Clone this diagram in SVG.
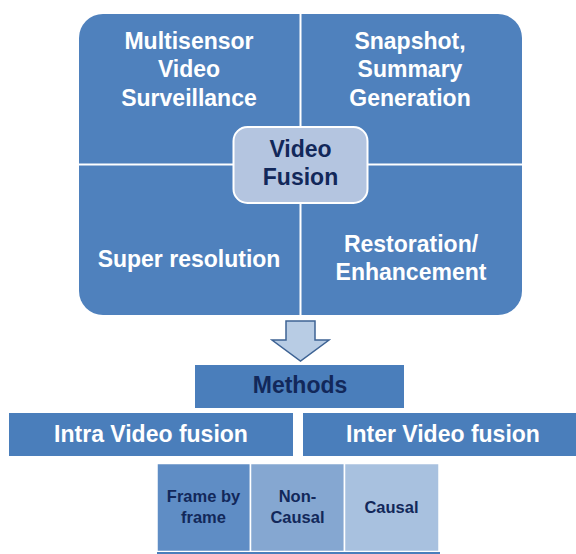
<svg xmlns="http://www.w3.org/2000/svg" width="576" height="554" viewBox="0 0 576 554">
  <style>
    .quad { fill: #4F81BD; }
    .divider { stroke: #FFFFFF; stroke-width: 2; }
    .lt { font-family: "Liberation Sans", Arial, sans-serif; font-weight: bold; fill: #FFFFFF; text-anchor: middle; }
    .dk { font-family: "Liberation Sans", Arial, sans-serif; font-weight: bold; fill: #12285A; text-anchor: middle; }
    .big { font-size: 23px; }
    .small { font-size: 16.5px; }
    .bar { fill: #4A7EBB; }
    .cell { stroke: #FFFFFF; stroke-width: 1.5; }
  </style>

  <!-- fusion application matrix -->
  <g id="matrix">
    <rect class="quad" x="79" y="14" width="443" height="301" rx="24" ry="24"/>
    <line class="divider" x1="300.5" y1="14" x2="300.5" y2="315"/>
    <line class="divider" x1="79" y1="164.5" x2="522" y2="164.5"/>
  </g>

  <g id="multisensor">
    <text class="lt big" x="189" y="49">Multisensor</text>
    <text class="lt big" x="189" y="77">Video</text>
    <text class="lt big" x="189" y="106">Surveillance</text>
  </g>

  <g id="snapshot">
    <text class="lt big" x="410" y="49">Snapshot,</text>
    <text class="lt big" x="410" y="77">Summary</text>
    <text class="lt big" x="410" y="106">Generation</text>
  </g>

  <g id="super-resolution">
    <text class="lt big" x="189" y="267">Super resolution</text>
  </g>

  <g id="restoration">
    <text class="lt big" x="411" y="252">Restoration/</text>
    <text class="lt big" x="411" y="280">Enhancement</text>
  </g>

  <g id="video-fusion">
    <rect x="233.5" y="127" width="134" height="76" rx="14" ry="14" fill="#B4C5E0" stroke="#FFFFFF" stroke-width="2"/>
    <text class="dk big" x="300.5" y="157">Video</text>
    <text class="dk big" x="300.5" y="185">Fusion</text>
  </g>

  <!-- block arrow down to methods -->
  <g id="connectors">
    <path d="M286,321 L315,321 L315,340 L329,340 L300.5,361 L272,340 L286,340 Z" fill="#B8CCE4" stroke="#3E6394" stroke-width="1.5" stroke-linejoin="miter"/>
  </g>

  <g id="methods">
    <rect class="bar" x="195" y="365" width="209" height="43"/>
    <text class="dk big" x="300" y="393">Methods</text>
  </g>

  <g id="intra">
    <rect class="bar" x="9" y="413" width="284" height="43"/>
    <text class="lt big" x="151" y="442">Intra Video fusion</text>
  </g>

  <g id="inter">
    <rect class="bar" x="303" y="413" width="275" height="43"/>
    <text class="lt big" x="443" y="442">Inter Video fusion</text>
  </g>

  <g id="frame-by-frame">
    <rect class="cell" x="157" y="463.5" width="93.5" height="88" fill="#5F8DC5"/>
    <text class="dk small" x="203.5" y="502">Frame by</text>
    <text class="dk small" x="203.5" y="523">frame</text>
  </g>

  <g id="non-causal">
    <rect class="cell" x="250.5" y="463.5" width="94" height="88" fill="#85A7D1"/>
    <text class="dk small" x="297.5" y="502">Non-</text>
    <text class="dk small" x="297.5" y="523">Causal</text>
  </g>

  <g id="causal">
    <rect class="cell" x="344.5" y="463.5" width="94.5" height="88" fill="#A8C1DF"/>
    <text class="dk small" x="391.5" y="513">Causal</text>
  </g>

  <rect class="bar" x="157" y="552" width="283" height="2"/>
</svg>
